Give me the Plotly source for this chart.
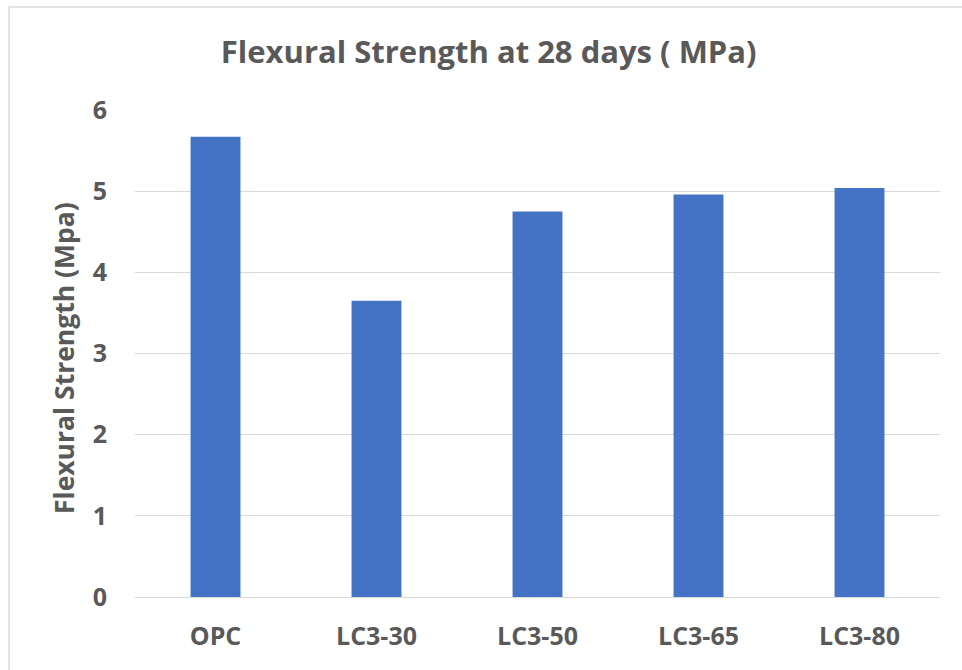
import plotly.graph_objects as go

categories = ["OPC", "LC3-30", "LC3-50", "LC3-65", "LC3-80"]
strength = [5.67, 3.65, 4.75, 4.96, 5.04]
y_ticks = [0, 1, 2, 3, 4, 5, 6]

FONT = "Open Sans"
TXT = "#595959"

fig = go.Figure(go.Bar(
    x=categories, y=strength, marker_color="#4472C4",
    marker_line_width=0, width=0.31,
))

fig.update_layout(
    width=962, height=670,
    margin=dict(l=135, r=22, t=110, b=73),
    paper_bgcolor="white", plot_bgcolor="white",
    showlegend=False,
    title=dict(text="<b>Flexural Strength at 28 days ( MPa)</b>", x=0.508, xanchor="center",
               y=1 - 52 / 670, yanchor="middle", yref="container",
               font=dict(family=FONT, size=31, color=TXT)),
    font=dict(family=FONT, color=TXT),
)
fig.update_xaxes(
    type="category", showgrid=False, showline=False, zeroline=False,
    ticks="", ticklabelstandoff=22,
    tickfont=dict(family=FONT, size=25, color=TXT, weight="bold"),
)
fig.update_yaxes(
    range=[0, 6], tickvals=y_ticks, showgrid=True, gridcolor="#d9d9d9", gridwidth=1,
    zeroline=True, zerolinecolor="#d9d9d9", zerolinewidth=1, showline=False,
    ticks="", ticklabelstandoff=27,
    tickfont=dict(family=FONT, size=25, color=TXT, weight="bold"),
)
fig.add_annotation(
    text="<b>Flexural Strength (Mpa)</b>", xref="paper", yref="paper",
    x=(64 - 135) / 805, y=(597 - 358) / 487, xanchor="center", yanchor="middle",
    textangle=-90, showarrow=False, font=dict(family=FONT, size=26.5, color=TXT),
)
fig.add_shape(type="rect", xref="paper", yref="paper",
              x0=(9 - 135) / 805, x1=(1000 - 135) / 805,
              y0=(597 - 700) / 487, y1=(597 - 7) / 487,
              line=dict(color="#d9d9d9", width=1.5), fillcolor="rgba(0,0,0,0)", layer="below")

fig.write_html("out.html")
